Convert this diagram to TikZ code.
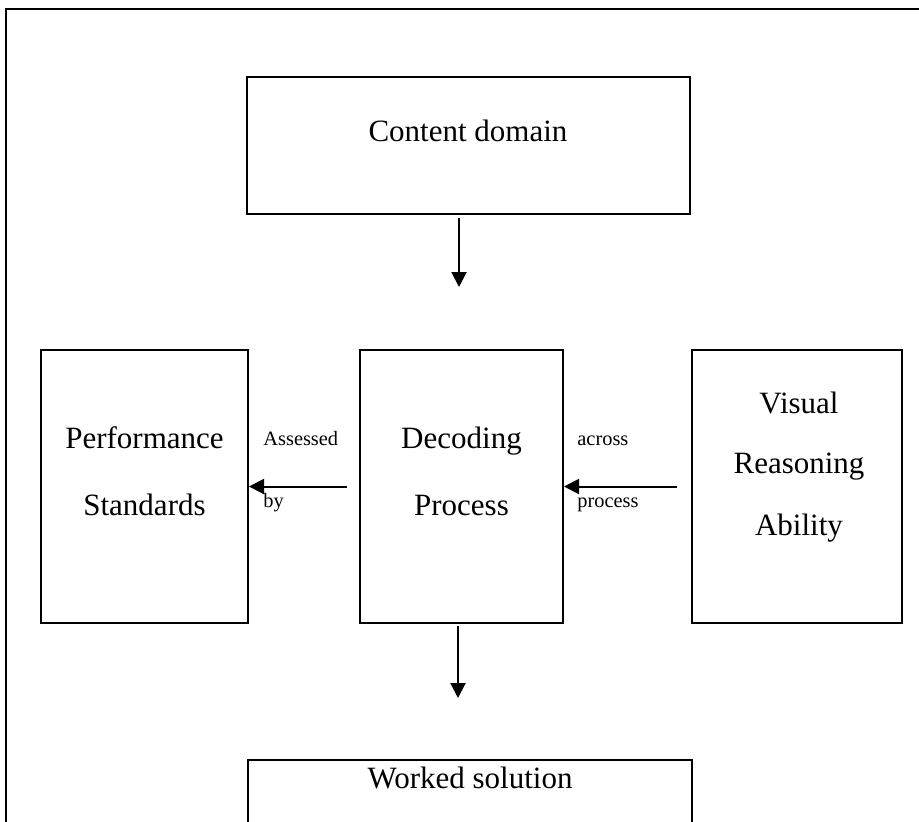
\documentclass[tikz,border=0pt]{standalone}
\usepackage{fontspec}
\setmainfont{Liberation Serif}
\usetikzlibrary{arrows.meta}
\tikzset{
  blk/.style={draw,line width=1pt,rectangle,inner sep=0pt},
  big/.style={font=\fontsize{15.5}{18}\selectfont,anchor=base,inner sep=0pt},
  sml/.style={font=\fontsize{10.2}{12}\selectfont,anchor=base west,inner sep=0pt},
  arr/.style={-{Triangle[length=7.5pt,width=7.5pt]},line width=1pt},
}
\begin{document}
\begin{tikzpicture}[x=0.5pt,y=-0.5pt]
\useasboundingbox (0,0) rectangle (919,821);
\clip (0,0) rectangle (919,821);
\draw[line width=1.3pt] (6,1000) |- (1000,9);
% boxes
\node[blk,minimum width=221.5pt,minimum height=68.5pt] (cont) at (468.5,145.5) {};
\node[blk,minimum width=103.5pt,minimum height=136.5pt] (perf) at (144.5,486.5) {};
\node[blk,minimum width=101.5pt,minimum height=136.5pt] (dec) at (461.5,486.5) {};
\node[blk,minimum width=105pt,minimum height=136.5pt] (vis) at (797,486.5) {};
\node[blk,minimum width=222pt,minimum height=75pt] (work) at (470,835) {};
% box texts
\node[big] (conttxt) at (468,141) {Content domain};
\node[big] (perftxta) at (144.5,448) {Performance}; \node[big] (perftxtb) at (144.5,515) {Standards};
\node[big] (dectxta) at (461.5,448) {Decoding}; \node[big] (dectxtb) at (461.5,515) {Process};
\node[big] (vistxta) at (799,413) {Visual}; \node[big] (vistxtb) at (799,473) {Reasoning}; \node[big] (vistxtc) at (799,535) {Ability};
\node[big] (worktxt) at (470,788) {Worked solution};
% arrow labels
\node[sml] (lbla) at (263,445) {Assessed}; \node[sml] (lblb) at (263,507) {by};
\node[sml] (lblc) at (577,445) {across}; \node[sml] (lbld) at (577,507) {process};
% connectors
\coordinate (topa) at (459,218); \coordinate (topb) at (459,287);
\coordinate (bota) at (458,626); \coordinate (botb) at (458,698);
\coordinate (lft) at (347,486.5); \coordinate (rgt) at (677,486.5);
\draw[arr] (topa) -- (topb);
\draw[arr] (bota) -- (botb);
\draw[arr] (lft) -- (perf.east);
\draw[arr] (rgt) -- (dec.east);
\end{tikzpicture}
\end{document}
